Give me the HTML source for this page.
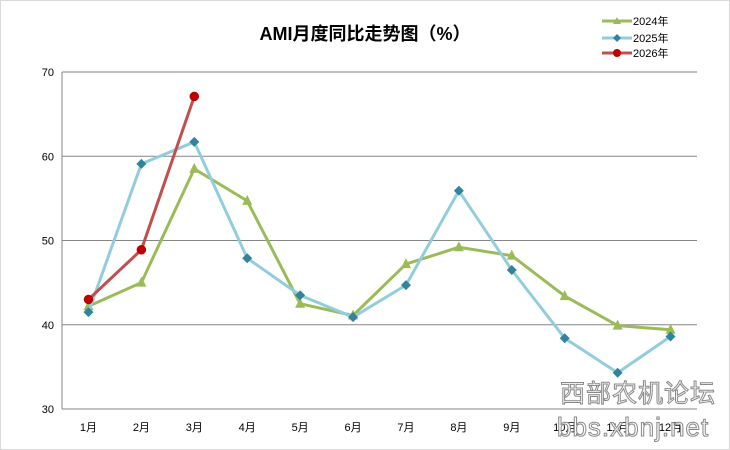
<!DOCTYPE html>
<html><head><meta charset="utf-8"><style>
body{margin:0;background:#fff}
svg{display:block;font-family:"Liberation Sans","Noto Sans CJK SC",sans-serif}
</style></head><body>
<svg id="c" width="730" height="450">
<rect x="0.5" y="0.5" width="729" height="449" fill="#fff" stroke="#d9d9d9"/>
<text x="365" y="40" text-anchor="middle" font-size="18" font-weight="bold" fill="#000">AMI月度同比走势图（%）</text>
<g id="grid"></g><g id="series"></g>
<g font-size="11">
<g><line x1="602" y1="21" x2="632" y2="21" stroke="#9bbb59" stroke-width="3"/><path d="M617,17 L621,24 L613,24Z" fill="#9bbb59"/><text x="633" y="25">2024年</text></g>
<g><line x1="602" y1="38" x2="632" y2="38" stroke="#93cddd" stroke-width="3"/><path d="M617,34 L621,38 L617,42 L613,38Z" fill="#31849b"/><text x="633" y="42">2025年</text></g>
<g><line x1="602" y1="53" x2="632" y2="53" stroke="#c0504d" stroke-width="3"/><circle cx="617" cy="53" r="4" fill="#c00000"/><text x="633" y="57">2026年</text></g>
</g>
<g fill="#fff" stroke="#888" stroke-width="1">
<text x="560" y="402" font-size="25" letter-spacing="1">西部农机论坛</text>
<text x="557" y="436" font-size="26" letter-spacing="1">bbs.xbnj.net</text>
</g>
</svg>
<script>
const categories=["1月","2月","3月","4月","5月","6月","7月","8月","9月","10月","11月","12月"];
const s2024=[42.2,45.0,58.5,54.7,42.5,41.1,47.2,49.2,48.2,43.4,39.9,39.4];
const s2025=[41.5,59.1,61.7,47.9,43.5,40.9,44.7,55.9,46.5,38.4,34.3,38.6];
const s2026=[43.0,48.9,67.1];
const yTicks=[30,40,50,60,70];
const NS="http://www.w3.org/2000/svg";
const L=62,R=697,T=72,B=409,yMin=30,yMax=70;
const bw=(R-L)/categories.length;
const xs=i=>L+bw*(i+0.5);
const ys=v=>B-(v-yMin)/(yMax-yMin)*(B-T);
function mk(tag,attrs,parent){const e=document.createElementNS(NS,tag);for(const k in attrs)e.setAttribute(k,attrs[k]);parent.appendChild(e);return e;}
const grid=document.getElementById('grid'),ser=document.getElementById('series');
yTicks.forEach(v=>{
 const g=mk('line',{x1:L,x2:R,y1:ys(v),y2:ys(v),stroke:'#868686','stroke-width':1},grid);
 
 
 const t=mk('text',{x:L-8,y:ys(v)+4,'text-anchor':'end','font-size':11},grid);t.textContent=v;
 
 
});
const ax=mk('line',{x1:L,x2:L,y1:T,y2:B,stroke:'#868686'},grid);


categories.forEach((c,i)=>{
 const t=mk('text',{x:xs(i),y:431,'text-anchor':'middle','font-size':11},grid);t.textContent=c;
 
 
});
function series(data,color,mcolor,shape,name){
 const p=mk('polyline',{points:data.map((v,i)=>xs(i)+','+ys(v)).join(' '),fill:'none',stroke:color,'stroke-width':3,'stroke-linejoin':'round'},ser);
 
 
 data.forEach((v,i)=>{
  const x=xs(i),y=ys(v);let m;
  if(shape==='tri')m=mk('path',{d:`M${x},${y-6}L${x+5},${y+4}L${x-5},${y+4}Z`,fill:mcolor},ser);
  else if(shape==='dia')m=mk('path',{d:`M${x},${y-5}L${x+5},${y}L${x},${y+5}L${x-5},${y}Z`,fill:mcolor},ser);
  else m=mk('circle',{cx:x,cy:y,r:4.5,fill:mcolor,stroke:'#a00','stroke-width':0.5},ser);
  
  
 });
}
series(s2024,'#9bbb59','#9bbb59','tri','2024');
series(s2025,'#93cddd','#31849b','dia','2025');
series(s2026,'#c0504d','#c00000','circ','2026');
</script>
</body></html>
